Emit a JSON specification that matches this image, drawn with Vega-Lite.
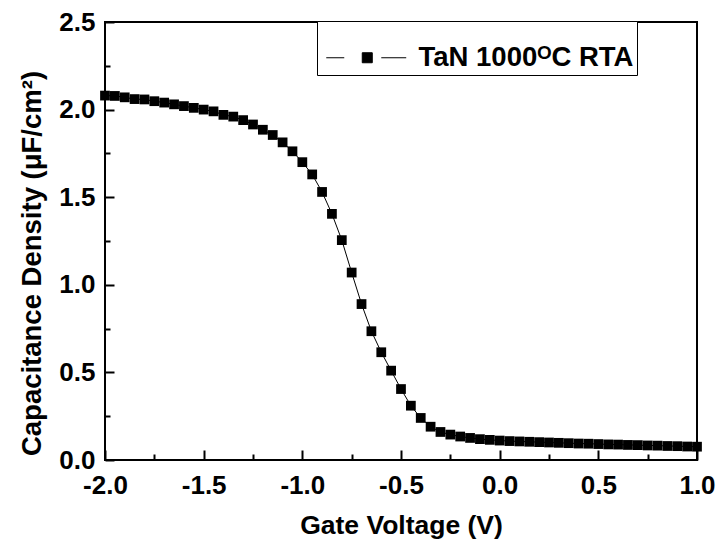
{
  "$schema": "https://vega.github.io/schema/vega-lite/v6.json",
  "width": 592,
  "height": 438,
  "autosize": {"type": "none"},
  "padding": {"left": 105, "top": 22, "right": 23, "bottom": 89},
  "background": "white",
  "config": {
    "view": {"stroke": "black", "strokeWidth": 2},
    "font": "Liberation Sans",
    "axis": {
      "grid": false,
      "ticks": true,
      "domain": false,
      "zindex": 1,
      "tickColor": "black",
      "tickWidth": 2,
      "tickOpacity": 1,
      "labelFont": "Liberation Sans",
      "labelFontWeight": "bold",
      "labelFontSize": 26,
      "labelColor": "black",
      "titleFont": "Liberation Sans",
      "titleFontWeight": "bold",
      "titleFontSize": 26.5,
      "titleColor": "black",
      "labelFlush": false,
      "labelOverlap": false
    }
  },
  "data": {
    "values": [
      {"v": -2.00, "c": 2.080}, {"v": -1.95, "c": 2.078}, {"v": -1.90, "c": 2.070}, {"v": -1.85, "c": 2.060},
      {"v": -1.80, "c": 2.058}, {"v": -1.75, "c": 2.048}, {"v": -1.70, "c": 2.040}, {"v": -1.65, "c": 2.030},
      {"v": -1.60, "c": 2.020}, {"v": -1.55, "c": 2.010}, {"v": -1.50, "c": 2.000}, {"v": -1.45, "c": 1.990},
      {"v": -1.40, "c": 1.970}, {"v": -1.35, "c": 1.960}, {"v": -1.30, "c": 1.940}, {"v": -1.25, "c": 1.915},
      {"v": -1.20, "c": 1.885}, {"v": -1.15, "c": 1.855}, {"v": -1.10, "c": 1.813}, {"v": -1.05, "c": 1.762},
      {"v": -1.00, "c": 1.700}, {"v": -0.95, "c": 1.630}, {"v": -0.90, "c": 1.530}, {"v": -0.85, "c": 1.405},
      {"v": -0.80, "c": 1.255}, {"v": -0.75, "c": 1.070}, {"v": -0.70, "c": 0.890}, {"v": -0.65, "c": 0.735},
      {"v": -0.60, "c": 0.615}, {"v": -0.55, "c": 0.510}, {"v": -0.50, "c": 0.405}, {"v": -0.45, "c": 0.310},
      {"v": -0.40, "c": 0.240}, {"v": -0.35, "c": 0.190}, {"v": -0.30, "c": 0.160}, {"v": -0.25, "c": 0.145},
      {"v": -0.20, "c": 0.134}, {"v": -0.15, "c": 0.126}, {"v": -0.10, "c": 0.119}, {"v": -0.05, "c": 0.115},
      {"v": 0.00, "c": 0.111}, {"v": 0.05, "c": 0.108}, {"v": 0.10, "c": 0.106}, {"v": 0.15, "c": 0.104},
      {"v": 0.20, "c": 0.102}, {"v": 0.25, "c": 0.100}, {"v": 0.30, "c": 0.098}, {"v": 0.35, "c": 0.096},
      {"v": 0.40, "c": 0.094}, {"v": 0.45, "c": 0.093}, {"v": 0.50, "c": 0.091}, {"v": 0.55, "c": 0.089},
      {"v": 0.60, "c": 0.088}, {"v": 0.65, "c": 0.086}, {"v": 0.70, "c": 0.085}, {"v": 0.75, "c": 0.083},
      {"v": 0.80, "c": 0.082}, {"v": 0.85, "c": 0.080}, {"v": 0.90, "c": 0.079}, {"v": 0.95, "c": 0.077},
      {"v": 1.00, "c": 0.076}
    ]
  },
  "layer": [
    {
      "mark": {"type": "line", "color": "black", "strokeWidth": 1},
      "encoding": {
        "x": {
          "field": "v", "type": "quantitative",
          "scale": {"domain": [-2, 1], "nice": false, "zero": false},
          "axis": {
            "orient": "bottom",
            "offset": -10,
            "values": [-2, -1.5, -1, -0.5, 0, 0.5, 1],
            "tickSize": 10,
            "labelPadding": 12,
            "labelExpr": "(datum.value < 0 ? '-' : '') + format(abs(datum.value), '.1f')",
            "title": "Gate Voltage (V)",
            "titleY": 83,
            "titleBaseline": "alphabetic"
          }
        },
        "y": {
          "field": "c", "type": "quantitative",
          "scale": {"domain": [0, 2.5], "nice": false},
          "axis": {
            "orient": "left",
            "offset": -9,
            "values": [0, 0.5, 1, 1.5, 2, 2.5],
            "tickSize": 9,
            "labelPadding": 10,
            "labelExpr": "format(datum.value, '.1f')",
            "title": "Capacitance Density (μF/cm²)",
            "titleFontSize": 27.5,
            "titleAngle": 270,
            "titleX": -74,
            "titleY": 241,
            "titleAlign": "center",
            "titleBaseline": "alphabetic"
          }
        }
      }
    },
    {
      "mark": {"type": "point", "shape": "square", "filled": true, "size": 95, "opacity": 1},
      "encoding": {
        "x": {
          "field": "v", "type": "quantitative",
          "axis": {
            "orient": "bottom",
            "offset": -6,
            "values": [-1.75, -1.25, -0.75, -0.25, 0.25, 0.75],
            "tickSize": 6,
            "labels": false,
            "title": null
          }
        },
        "y": {
          "field": "c", "type": "quantitative",
          "axis": {
            "orient": "left",
            "offset": -5,
            "values": [0.25, 0.75, 1.25, 1.75, 2.25],
            "tickSize": 5,
            "labels": false,
            "title": null
          }
        },
        "color": {
          "datum": "TaN 1000ᴼC RTA",
          "scale": {"range": ["black"]},
          "legend": {
            "orient": "none",
            "legendX": 212,
            "legendY": -1,
            "title": " ",
            "titleFontSize": 16,
            "titlePadding": 4,
            "padding": 3,
            "strokeColor": "black",
            "fillColor": "white",
            "labelFont": "Liberation Sans",
            "labelFontSize": 27.5,
            "labelFontWeight": "bold",
            "labelColor": "black",
            "labelLimit": 500,
            "labelOffset": 71,
            "symbolType": "M-0.625,0H0.875M3.96,0H6.04M2.375,-0.417H3.21V0.417H2.375Z",
            "symbolSize": 576,
            "symbolStrokeColor": "black",
            "symbolStrokeWidth": 1,
            "symbolFillColor": "black",
            "encode": {
              "legend": {
                "update": {
                  "strokeWidth": {"value": 1.5}
                }
              },
              "symbols": {
                "update": {
                  "stroke": {"value": "black"},
                  "strokeWidth": {"value": 1},
                  "fill": {"value": "black"},
                  "opacity": {"value": 1}
                }
              }
            }
          }
        }
      }
    }
  ],
  "resolve": {"axis": {"x": "independent", "y": "independent"}}
}
